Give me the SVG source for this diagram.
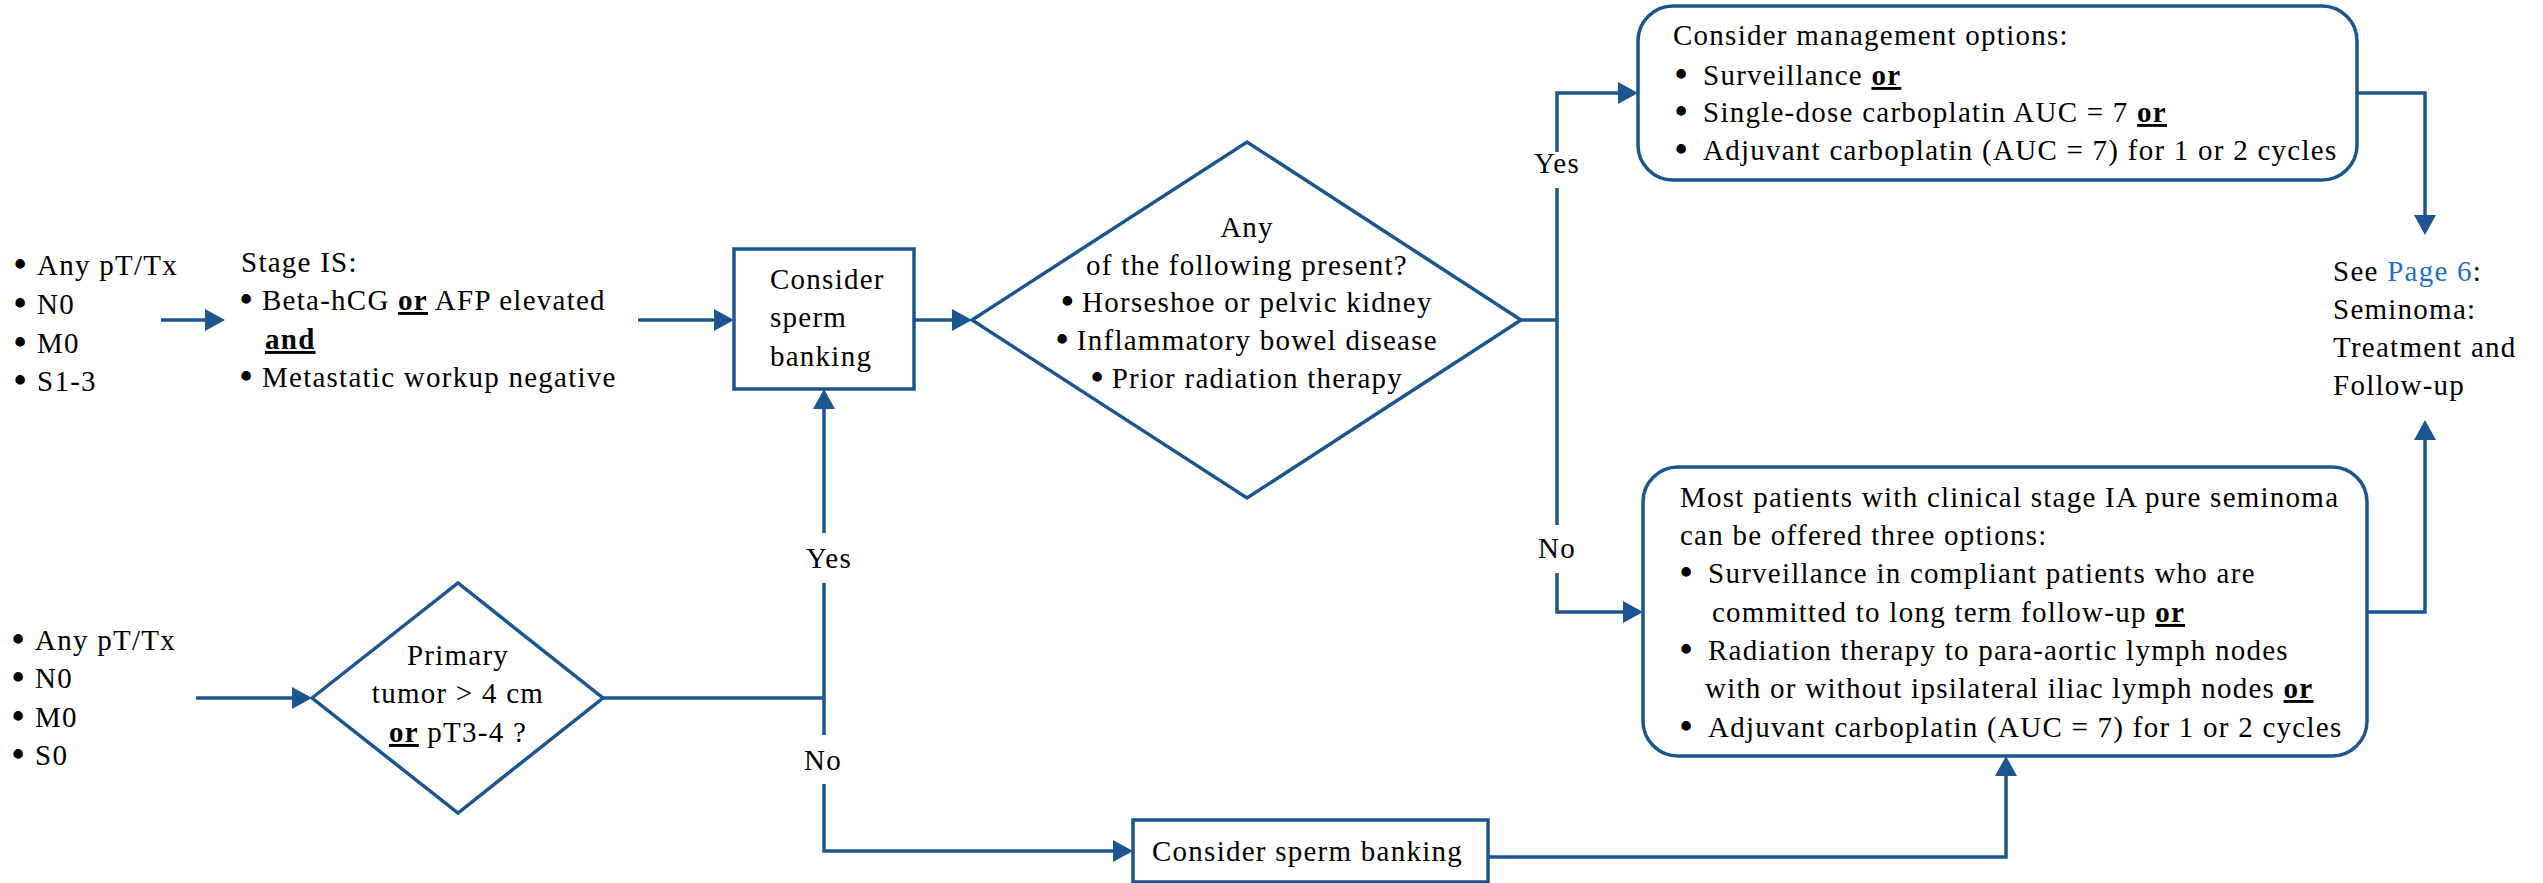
<svg xmlns="http://www.w3.org/2000/svg" width="2543" height="883" viewBox="0 0 2543 883">
  <style>
    text { font-family: "Liberation Serif", "Times New Roman", serif; font-size: 29px; letter-spacing: 1.25px; fill: #000; }
    .mid { text-anchor: middle; }
    .em { font-weight: bold; text-decoration: underline; }
    .b { font-size: 35px; font-weight: bold; letter-spacing: 0; }
    .link { fill: #1f6fc5; }
    .shape { fill: #fff; stroke: #1d5590; stroke-width: 3.5; }
    .wire { fill: none; stroke: #1d5590; stroke-width: 3.5; }
  </style>
  <defs>
    <marker id="arrow" viewBox="0 0 20 22" refX="14" refY="11" markerWidth="20" markerHeight="22" markerUnits="userSpaceOnUse" orient="auto">
      <path d="M0,0 L20,11 L0,22 z" fill="#1d5590"/>
    </marker>
  </defs>
  <rect width="2543" height="883" fill="#fff"/>

  <!-- connectors -->
  <g id="connectors" class="wire">
    <path d="M161,320 H219" marker-end="url(#arrow)"/>
    <path d="M638,320 H728" marker-end="url(#arrow)"/>
    <path d="M914,320 H966" marker-end="url(#arrow)"/>
    <!-- decision branches on the right -->
    <path d="M1521,320 H1557"/>
    <path d="M1557,152 V93 H1632" marker-end="url(#arrow)"/>
    <path d="M1557,188 V525"/>
    <path d="M1557,573 V612 H1637" marker-end="url(#arrow)"/>
    <!-- to the follow-up reference -->
    <path d="M2357,93 H2425 V229" marker-end="url(#arrow)"/>
    <path d="M2367,612 H2425 V426" marker-end="url(#arrow)"/>
    <!-- S0 branch -->
    <path d="M196,698 H306" marker-end="url(#arrow)"/>
    <path d="M603,698 H824 V583"/>
    <path d="M824,533 V395" marker-end="url(#arrow)"/>
    <path d="M824,698 V735"/>
    <path d="M824,784 V851 H1127" marker-end="url(#arrow)"/>
    <path d="M1488,857 H2006 V762" marker-end="url(#arrow)"/>
  </g>

  <g id="labels">
    <text x="1557" y="173" class="mid">Yes</text>
    <text x="1557" y="558" class="mid">No</text>
    <text x="829" y="568" class="mid">Yes</text>
    <text x="823" y="770" class="mid">No</text>
  </g>

  <g id="stage-is-criteria">
    <text><tspan x="14" y="276" class="b">•</tspan><tspan x="37" y="275">Any pT/Tx</tspan></text>
    <text><tspan x="14" y="315" class="b">•</tspan><tspan x="37" y="314">N0</tspan></text>
    <text><tspan x="14" y="354" class="b">•</tspan><tspan x="37" y="353">M0</tspan></text>
    <text><tspan x="14" y="392" class="b">•</tspan><tspan x="37" y="391">S1-3</tspan></text>
  </g>

  <g id="stage-is">
    <text x="241" y="272">Stage IS:</text>
    <text><tspan x="240" y="311" class="b">•</tspan><tspan x="262" y="310">Beta-hCG <tspan class="em">or</tspan> AFP elevated</tspan></text>
    <text x="265" y="349" class="em">and</text>
    <text><tspan x="240" y="388" class="b">•</tspan><tspan x="262" y="387">Metastatic workup negative</tspan></text>
  </g>

  <g id="sperm-banking-1">
    <rect class="shape" x="734" y="249" width="180" height="140"/>
    <text x="770" y="289">Consider</text>
    <text x="770" y="327">sperm</text>
    <text x="770" y="366">banking</text>
  </g>

  <g id="risk-factors">
    <polygon class="shape" points="972,320 1247,142 1521,320 1247,498"/>
    <text x="1247" y="237" class="mid">Any</text>
    <text x="1247" y="275" class="mid">of the following present?</text>
    <text x="1247" y="312" class="mid"><tspan class="b" dy="1">•</tspan><tspan dy="-1"> Horseshoe or pelvic kidney</tspan></text>
    <text x="1247" y="350" class="mid"><tspan class="b" dy="1">•</tspan><tspan dy="-1"> Inflammatory bowel disease</tspan></text>
    <text x="1247" y="388" class="mid"><tspan class="b" dy="1">•</tspan><tspan dy="-1"> Prior radiation therapy</tspan></text>
  </g>

  <g id="management-options">
    <rect class="shape" x="1638" y="6" width="719" height="174" rx="35" ry="35"/>
    <text x="1673" y="45">Consider management options:</text>
    <text><tspan x="1675" y="86" class="b">•</tspan><tspan x="1703" y="85">Surveillance <tspan class="em">or</tspan></tspan></text>
    <text><tspan x="1675" y="123" class="b">•</tspan><tspan x="1703" y="122">Single-dose carboplatin AUC = 7 <tspan class="em">or</tspan></tspan></text>
    <text><tspan x="1675" y="161" class="b">•</tspan><tspan x="1703" y="160">Adjuvant carboplatin (AUC = 7) for 1 or 2 cycles</tspan></text>
  </g>

  <g id="stage-ia-options">
    <rect class="shape" x="1643" y="467" width="724" height="289" rx="35" ry="35"/>
    <text x="1680" y="507">Most patients with clinical stage IA pure seminoma</text>
    <text x="1680" y="545">can be offered three options:</text>
    <text><tspan x="1680" y="584" class="b">•</tspan><tspan x="1708" y="583">Surveillance in compliant patients who are</tspan></text>
    <text x="1712" y="622">committed to long term follow-up <tspan class="em">or</tspan></text>
    <text><tspan x="1680" y="661" class="b">•</tspan><tspan x="1708" y="660">Radiation therapy to para-aortic lymph nodes</tspan></text>
    <text x="1705" y="698">with or without ipsilateral iliac lymph nodes <tspan class="em">or</tspan></text>
    <text><tspan x="1680" y="738" class="b">•</tspan><tspan x="1708" y="737">Adjuvant carboplatin (AUC = 7) for 1 or 2 cycles</tspan></text>
  </g>

  <g id="follow-up-ref">
    <text x="2333" y="281">See <tspan class="link">Page 6</tspan>:</text>
    <text x="2333" y="319">Seminoma:</text>
    <text x="2333" y="357">Treatment and</text>
    <text x="2333" y="395">Follow-up</text>
  </g>

  <g id="s0-criteria">
    <text><tspan x="12" y="651" class="b">•</tspan><tspan x="35" y="650">Any pT/Tx</tspan></text>
    <text><tspan x="12" y="689" class="b">•</tspan><tspan x="35" y="688">N0</tspan></text>
    <text><tspan x="12" y="728" class="b">•</tspan><tspan x="35" y="727">M0</tspan></text>
    <text><tspan x="12" y="766" class="b">•</tspan><tspan x="35" y="765">S0</tspan></text>
  </g>

  <g id="tumor-size">
    <polygon class="shape" points="312,698 458,583 603,698 458,813"/>
    <text x="458" y="665" class="mid">Primary</text>
    <text x="458" y="703" class="mid">tumor &gt; 4 cm</text>
    <text x="458" y="742" class="mid"><tspan class="em">or</tspan> pT3-4 ?</text>
  </g>

  <g id="sperm-banking-2">
    <rect class="shape" x="1133" y="820" width="355" height="62"/>
    <text x="1152" y="861">Consider sperm banking</text>
  </g>
</svg>
